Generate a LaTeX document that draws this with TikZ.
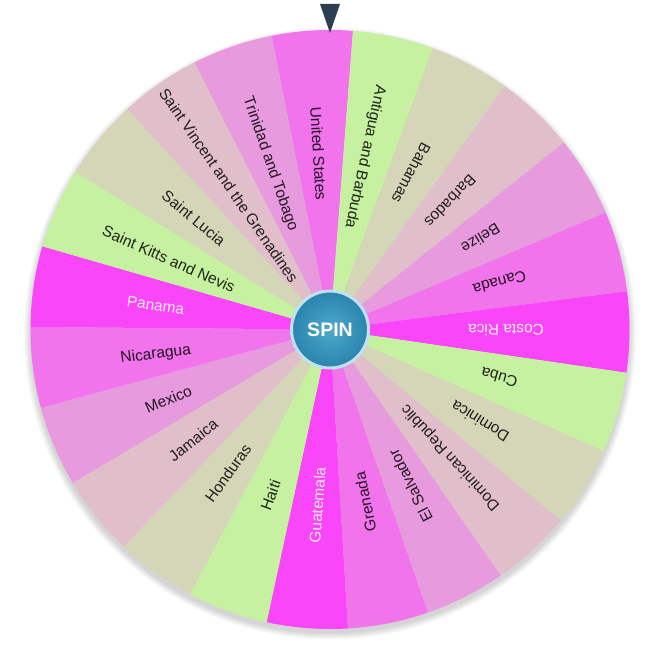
\documentclass[tikz,border=0pt]{standalone}
\usepackage{fontspec}
\usetikzlibrary{calc}
\setmainfont{Liberation Sans}
\definecolor{cgreen}{HTML}{C5F1A0}
\definecolor{ctan}{HTML}{D5D6B8}
\definecolor{crosy}{HTML}{E0BFCB}
\definecolor{cmauve}{HTML}{E89ADE}
\definecolor{cpink}{HTML}{F274EC}
\definecolor{cmag}{HTML}{F846F8}
\definecolor{cdark}{HTML}{2C3E50}
\definecolor{cring}{HTML}{C0E2F0}
\definecolor{chubin}{HTML}{4DA9CB}
\definecolor{chubout}{HTML}{2A84AE}
\tikzset{
  seclabel/.style={font=\fontsize{15.5}{18}\selectfont, inner sep=0pt, anchor=center, text height=13pt, text depth=0pt},
  hub/.style={circle, draw=cring, line width=3pt, minimum size=77pt, inner sep=0pt, inner color=chubin, outer color=chubout, text=white, font=\fontsize{19.5}{22}\selectfont\bfseries}
}
\begin{document}
\begin{tikzpicture}[x=1pt,y=1pt]
\useasboundingbox (0,0) rectangle (660,660);
\fill[white] (0,0) rectangle (660,660);
\coordinate (c) at (330,330.5);
\foreach \rr in {300,301,302,303,304,305,306}
  \fill[black,opacity=0.024] ($(c)+(0,-4)$) circle[radius=\rr pt];
\foreach \i/\col/\tcol/\rad/\txt in {
 0/cpink/black!85!cpink/176/United States,
 1/cgreen/black!85!cgreen/176/Antigua and Barbuda,
 2/ctan/black!85!ctan/176/Bahamas,
 3/crosy/black!85!crosy/176/Barbados,
 4/cmauve/black!85!cmauve/176/Belize,
 5/cpink/black!85!cpink/176/Canada,
 6/cmag/white!90!cmag/176/Costa Rica,
 7/cgreen/black!85!cgreen/176/Cuba,
 8/ctan/black!85!ctan/176/Dominica,
 9/crosy/black!85!crosy/176/Dominican Republic,
 10/cmauve/black!85!cmauve/176/El Salvador,
 11/cpink/black!85!cpink/176/Grenada,
 12/cmag/white!90!cmag/176/Guatemala,
 13/cgreen/black!85!cgreen/176/Haiti,
 14/ctan/black!85!ctan/176/Honduras,
 15/crosy/black!85!crosy/176/Jamaica,
 16/cmauve/black!85!cmauve/176/Mexico,
 17/cpink/black!85!cpink/176/Nicaragua,
 18/cmag/white!90!cmag/176/Panama,
 19/cgreen/black!85!cgreen/176/Saint Kitts and Nevis,
 20/ctan/black!85!ctan/176/Saint Lucia,
 21/crosy/black!85!crosy/176/Saint Vincent and the Grenadines,
 22/cmauve/black!85!cmauve/176/Trinidad and Tobago}{
  \pgfmathsetmacro{\amid}{93.43-\i*360/23}
  \pgfmathsetmacro{\astart}{\amid+180/23}
  \pgfmathsetmacro{\aend}{\amid-180/23}
  \pgfmathsetmacro{\rot}{\amid+180}
  \fill[\col] (c) -- ($(c)+(\astart:299.5)$) arc[start angle=\astart, end angle=\aend, radius=299.5pt] -- cycle;
  \node[seclabel,text=\tcol,rotate=\rot] (label\i) at ($(c)+(\amid:\rad)$) {\txt};
}
\node[hub] (spin) at (c) {SPIN};
\fill[cdark] (320,656) -- (340,656) -- (330,627) -- cycle;
\end{tikzpicture}
\end{document}
